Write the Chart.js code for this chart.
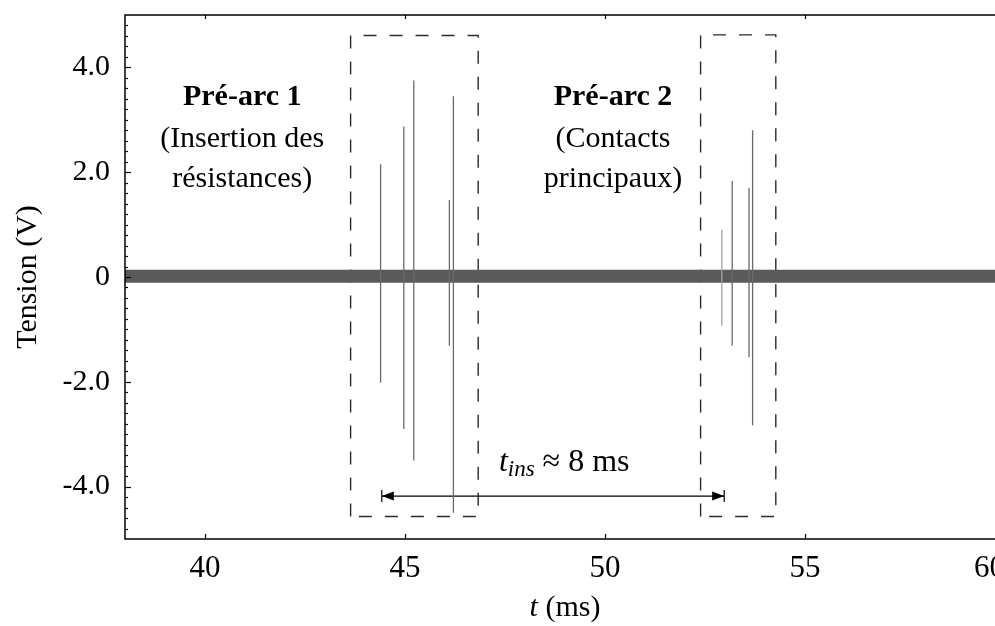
<!DOCTYPE html>
<html><head><meta charset="utf-8">
<script src="https://cdn.jsdelivr.net/npm/chart.js@4/dist/chart.umd.min.js"></script>
<style>
html,body{margin:0;padding:0;background:#fff;overflow:hidden;width:995px;height:626px}
#wrap{position:relative;width:1020px;height:626px}
canvas{display:block}
</style></head>
<body><div id="wrap"><canvas id="c" width="1020" height="626"></canvas></div>
<script>
// ---- data ----
const xRange = [38, 60];
const yRange = [-5, 5];
const xTickValues = [40, 45, 50, 55, 60];
const xTickLabels = ['40', '45', '50', '55', '60'];
const yTickValues = [-4, -2, 0, 2, 4];
const yTickLabels = ['-4.0', '-2.0', '0', '2.0', '4.0'];
const yMinorStep = 0.2;

// baseline noise band (ms, V)
const bandT = [38, 60];
const bandUpper = [0.14, 0.14];
const bandLower = [-0.11, -0.11];

// pre-arc voltage spikes (ms, V)
const spikeT   = [44.39, 44.97, 45.22, 46.11, 46.21, 52.92, 53.18, 53.60, 53.69];
const spikeMax = [2.15, 2.87, 3.75, 1.47, 3.45, 0.90, 1.83, 1.70, 2.80];
const spikeMin = [-2.02, -2.90, -3.50, -1.31, -4.50, -0.93, -1.31, -1.53, -2.83];

// dashed boxes (ms, V)
const boxLeft   = [43.64, 52.39];
const boxRight  = [46.83, 54.27];
const boxTop    = [4.61, 4.62];
const boxBottom = [-4.57, -4.57];

// insertion-time arrow
const arrowT = [44.42, 52.98];
const arrowV = -4.18;

// annotation texts
const groupT = [40.93, 50.2];
const groupTitle = ['Pré-arc 1', 'Pré-arc 2'];
const groupLine2 = ['(Insertion des', '(Contacts'];
const groupLine3 = ['résistances)', 'principaux)'];
const groupV = [3.28, 2.48, 1.71];
const tinsT = 48.98, tinsV = -3.71;

const SERIF = "'Liberation Serif', 'Times New Roman', serif";

// ---- datasets ----
const datasets = [];
spikeT.forEach((t, i) => {
  datasets.push({
    data: [{x: t, y: spikeMax[i]}, {x: t, y: spikeMin[i]}],
    borderColor: i === 5 ? '#a5a5a5' : '#6a6a6a', borderWidth: 1.3,
    pointRadius: 0, fill: false, tension: 0
  });
});
datasets.push({
  data: bandT.map((t, i) => ({x: t, y: bandUpper[i]})),
  borderWidth: 0, borderColor: 'rgba(0,0,0,0)', backgroundColor: '#5a5a5a',
  pointRadius: 0, fill: '+1'
});
datasets.push({
  data: bandT.map((t, i) => ({x: t, y: bandLower[i]})),
  borderWidth: 0, borderColor: 'rgba(0,0,0,0)', pointRadius: 0, fill: false
});
boxLeft.forEach((l, i) => {
  const r = boxRight[i], tp = boxTop[i], b = boxBottom[i];
  datasets.push({
    data: [{x: l, y: b}, {x: l, y: tp}, {x: r, y: tp}, {x: r, y: b}, {x: l, y: b}],
    borderColor: '#2a2a2a', borderWidth: 1.4, borderDash: [13, 13],
    pointRadius: 0, fill: false, tension: 0
  });
});
datasets.push({
  data: arrowT.map(t => ({x: t, y: arrowV})),
  borderColor: '#000', borderWidth: 1.2, pointRadius: 0, fill: false
});

// ---- decorations: frame, inward ticks, arrowheads, texts ----
const decor = {
  id: 'decor',
  afterDatasetsDraw(chart) {
    const {ctx, chartArea: a, scales: {x, y}} = chart;
    ctx.save();
    ctx.strokeStyle = '#000';
    ctx.lineWidth = 1.5;
    ctx.strokeRect(a.left, a.top, a.right - a.left, a.bottom - a.top);
    // y ticks (inward)
    ctx.lineWidth = 1.2;
    const n = Math.round((yRange[1] - yRange[0]) / yMinorStep);
    for (let i = 1; i < n; i++) {
      const v = yRange[0] + i * yMinorStep;
      const major = yTickValues.some(m => Math.abs(m - v) < 1e-6);
      const py = Math.round(y.getPixelForValue(v)) + 0.5;
      ctx.beginPath();
      ctx.moveTo(a.left, py);
      ctx.lineTo(a.left + (major ? 6 : 3), py);
      ctx.stroke();
    }
    // x ticks (inward, bottom and top)
    xTickValues.forEach(v => {
      const px = Math.round(x.getPixelForValue(v)) + 0.5;
      ctx.beginPath();
      ctx.moveTo(px, a.bottom); ctx.lineTo(px, a.bottom - 5);
      ctx.moveTo(px, a.top); ctx.lineTo(px, a.top + 4);
      ctx.stroke();
    });
    // arrow heads and end bars
    const ay = y.getPixelForValue(arrowV);
    const axl = x.getPixelForValue(arrowT[0]);
    const axr = x.getPixelForValue(arrowT[1]);
    ctx.fillStyle = '#000';
    ctx.lineWidth = 1.2;
    [[axl, 1], [axr, -1]].forEach(([px, dir]) => {
      ctx.beginPath();
      ctx.moveTo(px, ay - 6); ctx.lineTo(px, ay + 6); ctx.stroke();
      ctx.beginPath();
      ctx.moveTo(px, ay);
      ctx.lineTo(px + dir * 12, ay - 4.5);
      ctx.lineTo(px + dir * 12, ay + 4.5);
      ctx.closePath(); ctx.fill();
    });
    // group labels
    ctx.fillStyle = '#000';
    ctx.textAlign = 'center';
    ctx.textBaseline = 'alphabetic';
    groupT.forEach((t, i) => {
      const px = x.getPixelForValue(t);
      ctx.font = 'bold 30px ' + SERIF;
      ctx.fillText(groupTitle[i], px, y.getPixelForValue(groupV[0]));
      ctx.font = '30px ' + SERIF;
      ctx.fillText(groupLine2[i], px, y.getPixelForValue(groupV[1]));
      ctx.fillText(groupLine3[i], px, y.getPixelForValue(groupV[2]));
    });
    // t_ins ≈ 8 ms
    const parts = [
      {s: 't', f: 'italic 32px ' + SERIF, dy: 0},
      {s: 'ins', f: 'italic 23px ' + SERIF, dy: 5},
      {s: ' \u2248 8 ms', f: '32px ' + SERIF, dy: 0}
    ];
    let w = 0;
    parts.forEach(p => { ctx.font = p.f; p.w = ctx.measureText(p.s).width; w += p.w; });
    let cx = x.getPixelForValue(tinsT) - w / 2;
    const by = y.getPixelForValue(tinsV);
    ctx.textAlign = 'left';
    parts.forEach(p => { ctx.font = p.f; ctx.fillText(p.s, cx, by + p.dy); cx += p.w; });
    // axis titles
    const ax = [{s: 't', f: 'italic 30px ' + SERIF}, {s: ' (ms)', f: '30px ' + SERIF}];
    w = 0;
    ax.forEach(p => { ctx.font = p.f; p.w = ctx.measureText(p.s).width; w += p.w; });
    cx = (a.left + a.right) / 2 - w / 2;
    ax.forEach(p => { ctx.font = p.f; ctx.fillText(p.s, cx, 616); cx += p.w; });
    ctx.save();
    ctx.translate(28, (a.top + a.bottom) / 2);
    ctx.rotate(-Math.PI / 2);
    ctx.textAlign = 'center';
    ctx.textBaseline = 'middle';
    ctx.font = '30px ' + SERIF;
    ctx.fillText('Tension (V)', 0, 0);
    ctx.restore();
    ctx.restore();
  }
};

Chart.defaults.font.family = SERIF;
Chart.defaults.color = '#000';

new Chart(document.getElementById('c'), {
  type: 'line',
  data: {datasets},
  options: {
    responsive: false,
    animation: false,
    layout: {padding: {left: 0, top: 15, right: 15, bottom: 0}},
    plugins: {legend: {display: false}, tooltip: {enabled: false}},
    scales: {
      x: {
        type: 'linear', min: xRange[0], max: xRange[1],
        grid: {display: false, drawTicks: false},
        border: {display: false},
        ticks: {
          align: 'inner', padding: 14, maxRotation: 0, autoSkip: false,
          font: {size: 31, family: SERIF, lineHeight: 1},
          callback: v => { const k = xTickValues.indexOf(v); return k >= 0 ? xTickLabels[k] : ''; }
        },
        afterBuildTicks: s => { s.ticks = [{value: xRange[0]}].concat(xTickValues.map(v => ({value: v}))); },
        afterFit: s => { s.height = 87; s.paddingLeft = 0; s.paddingRight = 0; }
      },
      y: {
        type: 'linear', min: yRange[0], max: yRange[1],
        grid: {display: false, drawTicks: false},
        border: {display: false},
        ticks: {
          padding: 15, autoSkip: false,
          font: {size: 30, family: SERIF, lineHeight: 1},
          callback: v => { const k = yTickValues.indexOf(v); return k >= 0 ? yTickLabels[k] : ''; }
        },
        afterBuildTicks: s => { s.ticks = yTickValues.map(v => ({value: v})); },
        afterFit: s => { s.width = 125; s.paddingTop = 0; s.paddingBottom = 0; }
      }
    }
  },
  plugins: [decor]
});
</script>
</body></html>
